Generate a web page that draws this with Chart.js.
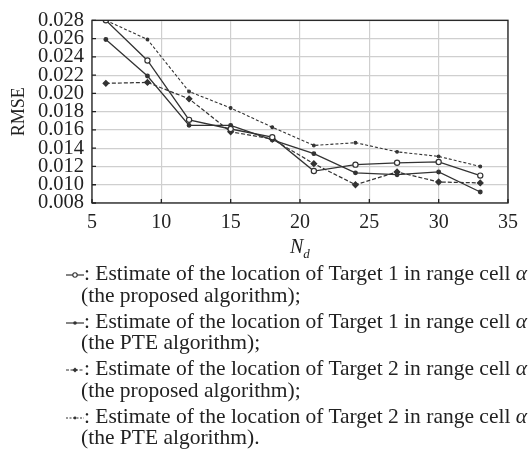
<!DOCTYPE html>
<html>
<head>
<meta charset="utf-8">
<script src="https://cdn.jsdelivr.net/npm/chart.js@4"></script>
<style>
  body { margin: 0; background: #fff; width: 532px; height: 454px; overflow: hidden; position: relative; font-family: "Liberation Serif", "DejaVu Serif", serif; color: #222; }
  #wrap { position: absolute; left: 0; top: 0; width: 532px; height: 240px; }
  #xtitle { position: absolute; top: 236px; left: 290px; font-size: 20px; line-height: 20px; font-style: italic; }
  #xtitle sub { font-size: 13px; }
  #legend { position: absolute; left: 66px; top: 263px; width: 466px; font-size: 21.5px; white-space: nowrap; overflow: hidden; }
  .item { margin-bottom: 4.5px; line-height: 21.5px; }
  .item .l2 { padding-left: 15px; }
  .item svg { vertical-align: middle; }
</style>
</head>
<body>
<div id="wrap"><canvas id="rmseChart" width="532" height="240"></canvas></div>
<div id="xtitle">N<sub>d</sub></div>
<div id="legend"></div>
<script>
const nd = [6, 9, 12, 15, 18, 21, 24, 27, 30, 33];
const t1Proposed = [0.0280, 0.0236, 0.0171, 0.0161, 0.0152, 0.0115, 0.0122, 0.0124, 0.0125, 0.0110];
const t1Pte = [0.0259, 0.0219, 0.0165, 0.0165, 0.0149, 0.0134, 0.0113, 0.0111, 0.0114, 0.0092];
const t2Proposed = [0.0211, 0.0212, 0.0194, 0.0158, 0.0150, 0.0123, 0.0100, 0.0114, 0.0103, 0.0102];
const t2Pte = [0.0280, 0.0259, 0.0202, 0.0184, 0.0163, 0.0143, 0.0146, 0.0136, 0.0131, 0.0120];
const xTicks = [5, 10, 15, 20, 25, 30, 35];
const legendText = [
  ["Estimate of the location of Target 1 in range cell ", "(the proposed algorithm);"],
  ["Estimate of the location of Target 1 in range cell ", "(the PTE algorithm);"],
  ["Estimate of the location of Target 2 in range cell ", "(the proposed algorithm);"],
  ["Estimate of the location of Target 2 in range cell ", "(the PTE algorithm)."]
];

const ink = "#333";
const pts = arr => arr.map((v, i) => ({ x: nd[i], y: v }));

// box + inward ticks
const frame = {
  id: "frame",
  afterDatasetsDraw(chart) {
    const { ctx, chartArea: a, scales } = chart;
    ctx.save();
    ctx.strokeStyle = "#222";
    ctx.lineWidth = 1.3;
    ctx.strokeRect(a.left, a.top, a.right - a.left, a.bottom - a.top);
    ctx.beginPath();
    scales.x.ticks.forEach(t => {
      const px = scales.x.getPixelForValue(t.value);
      ctx.moveTo(px, a.bottom); ctx.lineTo(px, a.bottom - 4);
    });
    scales.y.ticks.forEach(t => {
      const py = scales.y.getPixelForValue(t.value);
      ctx.moveTo(a.left, py); ctx.lineTo(a.left + 4, py);
    });
    ctx.stroke();
    ctx.restore();
  }
};

new Chart(rmseChart, {
  type: "line",
  data: {
    datasets: [
      { data: pts(t1Proposed), borderColor: ink, borderWidth: 1.3, pointStyle: "circle", pointRadius: 2.6, pointBackgroundColor: "#fff", pointBorderColor: ink, pointBorderWidth: 1.2 },
      { data: pts(t1Pte), borderColor: ink, borderWidth: 1.3, pointStyle: "circle", pointRadius: 1.8, pointBackgroundColor: ink, pointBorderColor: ink },
      { data: pts(t2Proposed), borderColor: ink, borderWidth: 1.2, borderDash: [4, 2], pointStyle: "rectRot", pointRadius: 2.8, pointBackgroundColor: ink, pointBorderColor: ink },
      { data: pts(t2Pte), borderColor: ink, borderWidth: 1.1, borderDash: [3, 2], pointStyle: "circle", pointRadius: 1.4, pointBackgroundColor: ink, pointBorderColor: ink }
    ]
  },
  options: {
    responsive: false,
    animation: false,
    layout: { padding: { left: 0, top: 15, right: 24, bottom: 0 } },
    plugins: { legend: { display: false }, tooltip: { enabled: false } },
    scales: {
      x: {
        type: "linear", min: 5, max: 35,
        afterBuildTicks: s => { s.ticks = xTicks.map(v => ({ value: v })); },
        afterFit: s => { s.height = 37; },
        grid: { color: "#cfcfcf", lineWidth: 1.2, drawTicks: false },
        border: { display: false },
        ticks: { color: "#222", padding: 8, font: { family: "Liberation Serif", size: 20 } }
      },
      y: {
        min: 0.008, max: 0.028,
        afterFit: s => { s.width = 92; },
        grid: { color: "#cfcfcf", lineWidth: 1.2, drawTicks: false },
        border: { display: false },
        ticks: { stepSize: 0.002, autoSkip: false, color: "#222", padding: 8,
          font: { family: "Liberation Serif", size: 20.5 },
          callback: v => v.toFixed(3) },
        title: { display: true, text: "RMSE", color: "#222", padding: { top: 8, bottom: 0 },
          font: { family: "Liberation Serif", size: 18 } }
      }
    }
  },
  plugins: [frame]
});

// legend markers drawn as small svg glyphs
const marks = [
  '<svg width="18" height="8"><line x1="0" y1="4" x2="18" y2="4" stroke="#333" stroke-width="1.2"/><circle cx="9" cy="4" r="2.2" fill="#fff" stroke="#333" stroke-width="1.1"/></svg>',
  '<svg width="18" height="8"><line x1="0" y1="4" x2="18" y2="4" stroke="#333" stroke-width="1.2"/><circle cx="9" cy="4" r="1.8" fill="#333"/></svg>',
  '<svg width="18" height="8"><line x1="0" y1="4" x2="18" y2="4" stroke="#333" stroke-width="1.1" stroke-dasharray="3 1.5"/><path d="M9 1.5 L11.5 4 L9 6.5 L6.5 4 Z" fill="#333"/></svg>',
  '<svg width="18" height="8"><line x1="0" y1="4" x2="18" y2="4" stroke="#333" stroke-width="1.1" stroke-dasharray="2 1.5"/><circle cx="9" cy="4" r="1.4" fill="#333"/></svg>'
];
const legend = document.getElementById("legend");
legendText.forEach((t, i) => {
  const d = document.createElement("div");
  d.className = "item";
  d.innerHTML = '<div>' + marks[i] + ': ' + t[0] + '<i>α</i></div><div class="l2">' + t[1] + '</div>';
  legend.appendChild(d);
});
</script>
</body>
</html>
